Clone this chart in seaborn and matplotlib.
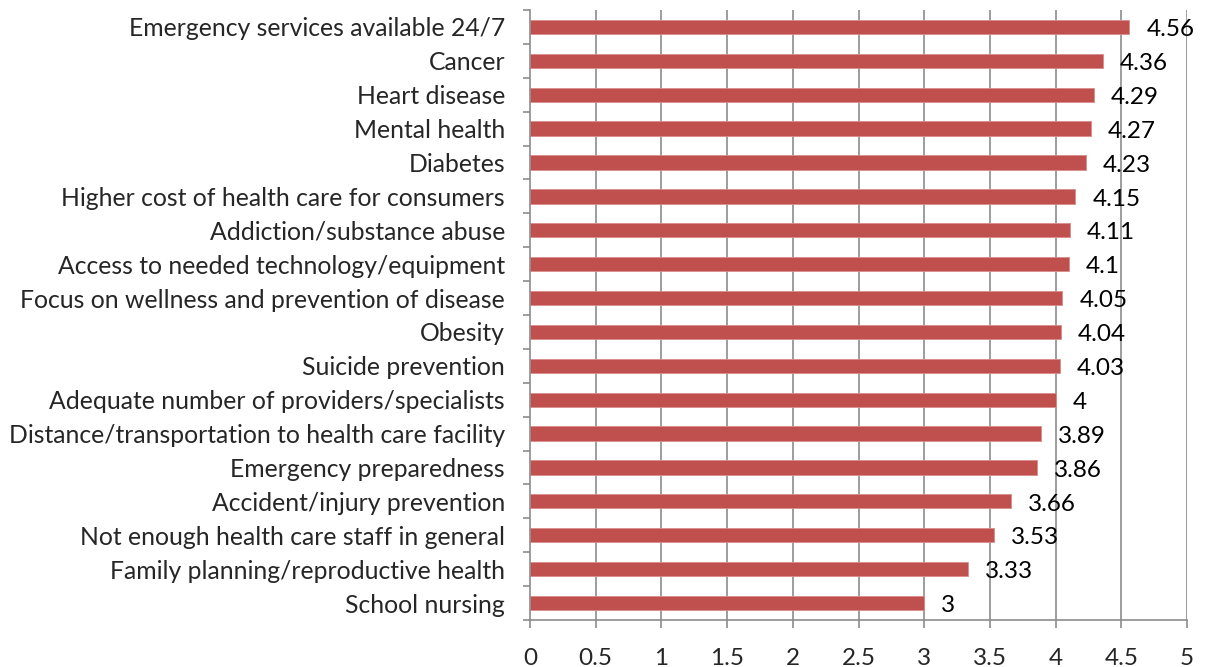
import matplotlib
matplotlib.use("Agg")
import matplotlib.pyplot as plt
import seaborn as sns
import numpy as np
import pandas as pd

categories = [
    "Emergency services available 24/7",
    "Cancer",
    "Heart disease",
    "Mental health",
    "Diabetes",
    "Higher cost of health care for consumers",
    "Addiction/substance abuse",
    "Access to needed technology/equipment",
    "Focus on wellness and prevention of disease",
    "Obesity",
    "Suicide prevention",
    "Adequate number of providers/specialists",
    "Distance/transportation to health care facility",
    "Emergency preparedness",
    "Accident/injury prevention",
    "Not enough health care staff in general",
    "Family planning/reproductive health",
    "School nursing",
]
scores = [4.56, 4.36, 4.29, 4.27, 4.23, 4.15, 4.11, 4.1, 4.05, 4.04, 4.03,
          4.0, 3.89, 3.86, 3.66, 3.53, 3.33, 3.0]
value_labels = ["4.56", "4.36", "4.29", "4.27", "4.23", "4.15", "4.11", "4.1",
                "4.05", "4.04", "4.03", "4", "3.89", "3.86", "3.66", "3.53",
                "3.33", "3"]
x_ticks = [0, 0.5, 1, 1.5, 2, 2.5, 3, 3.5, 4, 4.5, 5]
x_ticklabels = ["0", "0.5", "1", "1.5", "2", "2.5", "3", "3.5", "4", "4.5", "5"]

sns.set_style("white")
plt.rcParams["font.family"] = ["Lato", "DejaVu Sans"]

df = pd.DataFrame({"category": categories, "score": scores})

fig = plt.figure(figsize=(12.12, 6.67), dpi=100)
ax = fig.add_axes([0.4373, 0.0705, 0.9794 - 0.4373, 0.985 - 0.0705])

grid_color = "#8c8c8c"
for xv in x_ticks[1:]:
    ax.axvline(xv, color=grid_color, lw=1.2, zorder=0)

sns.barplot(data=df, x="score", y="category", orient="h", color="#C0504D",
            width=0.42, saturation=1, edgecolor="#d98c8a", linewidth=0.6,
            ax=ax, zorder=2)

for i, (v, lab) in enumerate(zip(scores, value_labels)):
    ax.text(v + 0.13, i + 0.08, lab, va="center", ha="left", fontsize=17.5,
            color="black")

ax.set_xlim(0, 5)
ax.set_ylim(len(categories) - 0.5, -0.5)
ax.set_xticks(x_ticks)
ax.set_xticklabels(x_ticklabels, fontsize=17.5)
ax.tick_params(axis="x", length=6, width=1.2, color=grid_color, pad=14,
               bottom=True)
ax.tick_params(axis="y", which="major", length=0, pad=18, labelsize=17.8)
ax.set_yticks(np.arange(-0.5, len(categories), 1.0), minor=True)
ax.tick_params(axis="y", which="minor", length=5, width=1.2, color=grid_color,
               left=True)
ax.set_xlabel("")
ax.set_ylabel("")
for s in ["top", "right"]:
    ax.spines[s].set_visible(False)
for s in ["left", "bottom"]:
    ax.spines[s].set_color(grid_color)
    ax.spines[s].set_linewidth(1.2)

fig.savefig("out.png", dpi=100)
